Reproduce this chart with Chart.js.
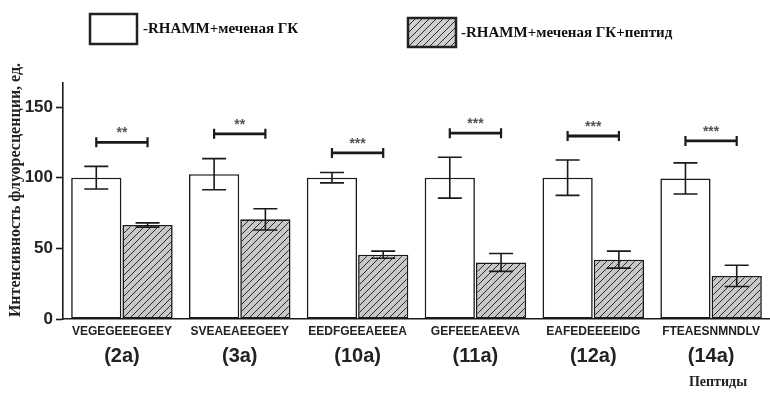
<!DOCTYPE html>
<html>
<head>
<meta charset="utf-8">
<script src="https://cdn.jsdelivr.net/npm/chart.js@4.4.1/dist/chart.umd.min.js"></script>
<style>
  html, body { margin: 0; padding: 0; background: #fff; }
  #wrap { width: 770px; height: 399px; position: relative; }
</style>
</head>
<body>
<div id="wrap"><canvas id="peptideChart"></canvas></div>
<script>
// Data
const sequences = ['VEGEGEEEGEEY', 'SVEAEAEEGEEY', 'EEDFGEEAEEEA', 'GEFEEEAEEVA', 'EAFEDEEEEIDG', 'FTEAESNMNDLV'];
const codes = ['(2a)', '(3a)', '(10a)', '(11a)', '(12a)', '(14a)'];
const seriesNames = ['-RHAMM+меченая ГК', '-RHAMM+меченая ГК+пептид'];
const controlValues = [100, 102.5, 100, 100, 100, 99.5];
const controlErr = [8, 11, 3.7, 14.5, 12.5, 11];
const peptideValues = [66.5, 70.5, 45.5, 40, 42, 30.5];
const peptideErr = [1.5, 7.5, 2.5, 6.3, 6, 7.5];
const bracketLevels = [125, 131, 117.5, 131.5, 129.5, 126];
const stars = ['**', '**', '***', '***', '***', '***'];
const yTicks = [0, 50, 100, 150];

function makeHatch(bg) {
    const s = 7;
    const c = document.createElement('canvas');
    c.width = s; c.height = s;
    const g = c.getContext('2d');
    g.fillStyle = bg;
    g.fillRect(0, 0, s, s);
    g.strokeStyle = '#2a2a2a';
    g.lineWidth = 1;
    g.beginPath();
    g.moveTo(0, s); g.lineTo(s, 0);
    g.moveTo(-1, 1); g.lineTo(1, -1);
    g.moveTo(s - 1, s + 1); g.lineTo(s + 1, s - 1);
    g.stroke();
    return g.createPattern(c, 'repeat');
}

const ctx = document.getElementById('peptideChart').getContext('2d');
const hatch = makeHatch('#c8c8c8');

// error bars, significance brackets, labels and legend
const extras = {
    id: 'extras',
    afterDatasetsDraw(chart) {
        const c = chart.ctx;
        const y = chart.scales.y;
        const errs = [controlErr, peptideErr];
        c.save();
        c.strokeStyle = '#1a1a1a';
        c.lineWidth = 1.6;
        [0, 1].forEach(d => {
            const meta = chart.getDatasetMeta(d);
            const vals = chart.data.datasets[d].data;
            meta.data.forEach((bar, i) => {
                const hi = y.getPixelForValue(vals[i] + errs[d][i]);
                const lo = y.getPixelForValue(vals[i] - errs[d][i]);
                const half = 12;
                c.beginPath();
                c.moveTo(bar.x, hi); c.lineTo(bar.x, lo);
                c.moveTo(bar.x - half, hi); c.lineTo(bar.x + half, hi);
                c.moveTo(bar.x - half, lo); c.lineTo(bar.x + half, lo);
                c.stroke();
            });
        });

        // brackets
        const m0 = chart.getDatasetMeta(0), m1 = chart.getDatasetMeta(1);
        bracketLevels.forEach((lvl, i) => {
            const x1 = m0.data[i].x, x2 = m1.data[i].x;
            const py = y.getPixelForValue(lvl);
            c.lineWidth = 2.8;
            c.beginPath();
            c.moveTo(x1, py); c.lineTo(x2, py);
            c.stroke();
            c.lineWidth = 2.2;
            c.beginPath();
            c.moveTo(x1, py - 5); c.lineTo(x1, py + 5);
            c.moveTo(x2, py - 5); c.lineTo(x2, py + 5);
            c.stroke();
            c.fillStyle = '#555';
            c.font = 'bold 14px "Liberation Sans", Arial';
            c.textAlign = 'center';
            c.textBaseline = 'middle';
            c.fillText(stars[i], (x1 + x2) / 2, py - 9);
        });

        // x labels
        const x = chart.scales.x;
        c.fillStyle = '#222';
        c.textAlign = 'center';
        c.textBaseline = 'middle';
        sequences.forEach((s, i) => {
            const px = x.getPixelForValue(i);
            c.font = 'bold 12px "Liberation Sans", Arial';
            c.fillText(s, px, 332);
            c.font = 'bold 20px "Liberation Sans", Arial';
            c.fillText(codes[i], px, 356);
        });
        c.font = 'bold 14px "Liberation Serif", "Times New Roman"';
        c.fillText('Пептиды', 718, 382);

        // y title
        c.save();
        c.translate(16, 190);
        c.rotate(-Math.PI / 2);
        c.font = 'bold 16px "Liberation Serif", "Times New Roman"';
        c.fillText('Интенсивность флуоресценции, ед.', 0, 0);
        c.restore();

        // legend
        c.lineWidth = 2.5;
        c.strokeStyle = '#222';
        c.fillStyle = '#fff';
        c.fillRect(90, 14, 47, 30);
        c.strokeRect(90, 14, 47, 30);
        c.fillStyle = makeHatch('#d0d0d0');
        c.fillRect(408, 18, 48, 29);
        c.strokeRect(408, 18, 48, 29);
        c.fillStyle = '#111';
        c.textAlign = 'left';
        c.font = 'bold 15px "Liberation Serif", "Times New Roman"';
        c.fillText(seriesNames[0], 143, 29);
        c.fillText(seriesNames[1], 461, 33);
        c.restore();
    }
};

new Chart(ctx, {
    type: 'bar',
    data: {
        labels: codes,
        datasets: [{
            label: seriesNames[0],
            data: controlValues,
            backgroundColor: '#ffffff',
            borderColor: '#1a1a1a',
            borderWidth: 1.6,
            borderSkipped: false,
            categoryPercentage: 0.87,
            barPercentage: 0.98
        }, {
            label: seriesNames[1],
            data: peptideValues,
            backgroundColor: hatch,
            borderColor: '#1a1a1a',
            borderWidth: 1.6,
            borderSkipped: false,
            categoryPercentage: 0.87,
            barPercentage: 0.98
        }]
    },
    options: {
        responsive: true,
        maintainAspectRatio: false,
        animation: false,
        layout: { padding: { top: 83, right: 0, bottom: 0, left: 0 } },
        plugins: {
            legend: { display: false },
            tooltip: { enabled: false }
        },
        scales: {
            x: {
                grid: { display: false },
                ticks: { display: false },
                border: { color: '#1a1a1a', width: 1.6 },
                afterFit: scale => { scale.height = 80; }
            },
            y: {
                min: 0,
                max: 167,
                afterFit: scale => { scale.width = 63; },
                afterBuildTicks: scale => { scale.ticks = yTicks.map(v => ({ value: v })); },
                grid: { drawOnChartArea: false, drawTicks: true, tickLength: 7, tickWidth: 1.6, tickColor: '#1a1a1a' },
                border: { color: '#1a1a1a', width: 1.6 },
                ticks: {
                    color: '#222',
                    padding: 3,
                    font: { family: '"Liberation Sans", Arial', size: 17, weight: 'bold' }
                }
            }
        }
    },
    plugins: [extras]
});
</script>
</body>
</html>
